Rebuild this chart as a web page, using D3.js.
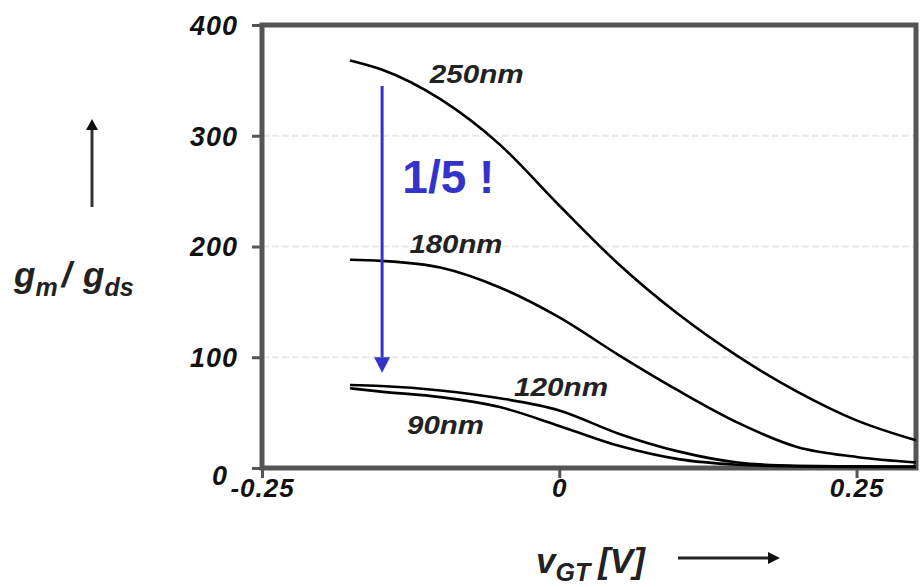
<!DOCTYPE html>
<html>
<head>
  <meta charset="UTF-8">
  <title>gm/gds vs VGT</title>
  <style>
    body{ margin:0; background:#fff; }
    text{ font-family:"Liberation Sans", Arial, sans-serif; }
  </style>
</head>
<body>
<svg></svg>
<script src="https://d3js.org/d3.v7.min.js"></script>
<script>

let width = 923, height = 587;

// data
let vgt     = [-0.176, -0.15, -0.1, -0.05, 0, 0.05, 0.1, 0.15, 0.2, 0.25, 0.30];
let g250    = [368, 360, 333, 292, 237, 184, 139, 101, 69, 43, 25];
let g180    = [188, 187, 181, 163, 136, 102, 70, 41, 19, 10, 5];
let g120    = [75, 74, 70, 63, 52, 31, 15, 5, 2, 1.5, 1];
let g90     = [72, 69, 64, 55, 38, 20, 8, 3, 1.5, 1, 1];
let names   = ["250nm", "180nm", "120nm", "90nm"];
let yTicks  = [0, 100, 200, 300, 400];
let xTicks  = [-0.25, 0, 0.25];
let xLabels = ["-0.25", "0", "0.25"];

let svg = d3.select("svg")
    .attr("width", width)
    .attr("height", height);

let x = d3.scaleLinear().domain([-0.25, 0.30]).range([262, 916]);
let y = d3.scaleLinear().domain([0, 400]).range([468, 25]);

// grid lines
svg.append("g")
    .selectAll("line")
    .data(yTicks.filter(d => d > 0 && d < 400))
    .enter().append("line")
    .attr("x1", x(-0.25)).attr("x2", x(0.30))
    .attr("y1", d => y(d)).attr("y2", d => y(d))
    .attr("stroke", "#e8e8e8")
    .attr("stroke-width", 2)
    .attr("stroke-dasharray", "7,3");

// y axis
let ya = svg.append("g")
    .attr("transform", "translate(" + x(-0.25) + ",0)")
    .call(d3.axisLeft(y).tickValues(yTicks).tickSize(10).tickPadding(14));
ya.select(".domain").remove();
ya.selectAll(".tick line").attr("stroke", "#555").attr("stroke-width", 3);
ya.selectAll(".tick text")
    .attr("font-size", 27).attr("font-weight", "bold").attr("font-style", "italic")
    .attr("fill", "#111")
    .attr("letter-spacing", 1)
    .attr("font-family", "Liberation Sans, Arial, sans-serif")
    .attr("dy", d => d === 0 ? "0.6em" : "0.35em")
    .attr("x", d => d === 0 ? -34 : -24);

// x axis
let xa = svg.append("g")
    .attr("transform", "translate(0," + y(0) + ")")
    .call(d3.axisBottom(x).tickValues(xTicks).tickSize(10).tickPadding(1)
        .tickFormat((d, i) => xLabels[i]));
xa.select(".domain").remove();
xa.selectAll(".tick line").attr("stroke", "#555").attr("stroke-width", 3);
xa.selectAll(".tick text")
    .attr("font-size", 26).attr("font-weight", "bold").attr("font-style", "italic")
    .attr("fill", "#111")
    .attr("letter-spacing", 1)
    .attr("font-family", "Liberation Sans, Arial, sans-serif");

// frame
svg.append("rect")
    .attr("x", x(-0.25)).attr("y", y(400))
    .attr("width", x(0.30) - x(-0.25))
    .attr("height", y(0) - y(400))
    .attr("fill", "none")
    .attr("stroke", "#555")
    .attr("stroke-width", 5);

// curves
let series = [g250, g180, g120, g90];
let line = d3.line()
    .x((d, i) => x(vgt[i]))
    .y(d => y(d))
    .curve(d3.curveMonotoneX);

svg.append("g")
    .selectAll("path")
    .data(series)
    .enter().append("path")
    .attr("d", line)
    .attr("fill", "none")
    .attr("stroke", "#000")
    .attr("stroke-width", 2.6);

// curve labels
let labelPos = [[-0.109, 348], [-0.126, 194], [-0.038, 65], [-0.128, 31]];
let labelLen = [94, 93, 94, 77];
svg.append("g")
    .selectAll("text")
    .data(names)
    .enter().append("text")
    .attr("x", (d, i) => x(labelPos[i][0]))
    .attr("y", (d, i) => y(labelPos[i][1]))
    .attr("font-size", 25).attr("font-weight", "bold").attr("font-style", "italic")
    .attr("textLength", (d, i) => labelLen[i])
    .attr("lengthAdjust", "spacingAndGlyphs")
    .attr("fill", "#222")
    .text(d => d);

// blue arrow and ratio
let ax = x(-0.149);
svg.append("line")
    .attr("x1", ax).attr("x2", ax)
    .attr("y1", y(345)).attr("y2", y(100))
    .attr("stroke", "#3333cc").attr("stroke-width", 3);
svg.append("path")
    .attr("d", "M" + (ax - 8) + "," + y(100) + "L" + (ax + 8) + "," + y(100) + "L" + ax + "," + y(86) + "Z")
    .attr("fill", "#3333cc");
svg.append("text")
    .attr("x", x(-0.132)).attr("y", y(248))
    .attr("font-size", 46).attr("font-weight", "bold")
    .attr("fill", "#3333cc")
    .text("1/5 !");

// y label
let yl = svg.append("text")
    .attr("x", 14).attr("y", 287)
    .attr("font-size", 35).attr("font-weight", "bold").attr("font-style", "italic")
    .attr("fill", "#222");
yl.append("tspan").text("g");
yl.append("tspan").attr("font-size", 25).attr("dy", 9).text("m");
yl.append("tspan").attr("dy", -9).attr("dx", 4).text("/ ");
yl.append("tspan").attr("dx", 2).text("g");
yl.append("tspan").attr("font-size", 25).attr("dy", 9).text("ds");

svg.append("line")
    .attr("x1", 92).attr("x2", 92).attr("y1", 207).attr("y2", 128)
    .attr("stroke", "#333").attr("stroke-width", 3);
svg.append("path")
    .attr("d", "M86,130L98,130L92,119Z").attr("fill", "#111");

// x label
let xl = svg.append("text")
    .attr("x", 536).attr("y", 573)
    .attr("font-size", 35).attr("font-weight", "bold").attr("font-style", "italic")
    .attr("fill", "#222");
xl.append("tspan").text("v");
xl.append("tspan").attr("font-size", 25).attr("dy", 8).text("GT");
xl.append("tspan").attr("dy", -8).attr("dx", 8).text("[V]");

svg.append("line")
    .attr("x1", 678).attr("x2", 770).attr("y1", 558).attr("y2", 558)
    .attr("stroke", "#222").attr("stroke-width", 3);
svg.append("path")
    .attr("d", "M768,552L768,564L780,558Z").attr("fill", "#111");

</script>
</body>
</html>
